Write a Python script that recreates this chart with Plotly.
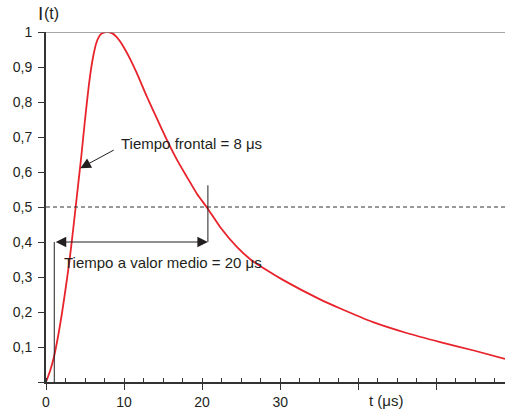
import plotly.graph_objects as go

# Curve I(t)
t_us = [0, 0.5, 1.0, 1.5, 2.0, 2.5, 3.0, 3.5, 4.0, 4.5, 5.0, 5.5, 6.0, 6.5, 7.0,
        7.5, 8.0, 8.5, 9.0, 9.5, 10.0, 10.8, 11.65, 12.93, 14.2, 15.5, 16.8, 18.05, 19.33, 20.7,
        22.3, 24.45, 26.2, 28.3, 30.4, 35.1, 37.7, 41.9, 46.2, 50.5, 54.8, 58.8]
i_t = [0, 0.03, 0.07, 0.125, 0.19, 0.265, 0.345, 0.44, 0.54, 0.64, 0.75, 0.85, 0.925,
       0.972, 0.993, 0.999, 1.0, 0.996, 0.987, 0.973, 0.955, 0.922, 0.882, 0.815, 0.753,
       0.691, 0.634, 0.586, 0.538, 0.496, 0.443, 0.386, 0.350, 0.319, 0.291, 0.236, 0.21,
       0.171, 0.140, 0.114, 0.090, 0.066]

x_tickvals = [0, 10, 20, 30, 40, 50]
x_ticktext = ["0", "10", "20", "30", "", ""]
y_tickvals = [0, 0.1, 0.2, 0.3, 0.4, 0.5, 0.6, 0.7, 0.8, 0.9, 1.0]
y_ticktext = ["", "0,1", "0,2", "0,3", "0,4", "0,5", "0,6", "0,7", "0,8", "0,9", "1"]

half_level = 0.5
t_start = 1.06
t_half = 20.74
arrow_level = 0.4
x_max = 58.8

FONT = "Liberation Sans, Arial, sans-serif"
TXT = "#231f20"

fig = go.Figure()
fig.add_trace(go.Scatter(x=t_us, y=i_t, mode="lines",
                         line=dict(color="#e8232b", width=1.8, shape="spline", smoothing=0.5),
                         hoverinfo="skip", showlegend=False))

# reference lines
fig.add_shape(type="line", x0=0, x1=x_max, y0=1, y1=1, line=dict(color="#8a8a8a", width=1.5))
fig.add_shape(type="line", x0=0, x1=x_max, y0=half_level, y1=half_level,
              line=dict(color="#333", width=1, dash="4px,3px"))
fig.add_shape(type="line", x0=t_start, x1=t_start, y0=0, y1=arrow_level,
              line=dict(color="#231f20", width=1))
fig.add_shape(type="line", x0=t_half, x1=t_half, y0=arrow_level, y1=0.562,
              line=dict(color="#231f20", width=1))

# double arrow
fig.add_annotation(x=t_half, y=arrow_level, ax=t_start, ay=arrow_level,
                   xref="x", yref="y", axref="x", ayref="y", text="",
                   showarrow=True, arrowhead=2, startarrowhead=2, arrowside="end+start",
                   arrowsize=2.1, startarrowsize=2.1, arrowwidth=1, arrowcolor="#231f20")
# front-time arrow
fig.add_annotation(x=4.4, y=0.611, ax=8.87, ay=0.665,
                   xref="x", yref="y", axref="x", ayref="y", text="",
                   showarrow=True, arrowhead=2, arrowsize=2.1, arrowwidth=1, arrowcolor="#231f20")

fig.add_annotation(x=9.4, y=0.682, xref="x", yref="y", text="Tiempo frontal = 8 μs",
                   showarrow=False, xanchor="left", yanchor="middle",
                   font=dict(family=FONT, size=15, color=TXT))
fig.add_annotation(x=2.0, y=0.342, xref="x", yref="y", text="Tiempo a valor medio = 20 μs",
                   showarrow=False, xanchor="left", yanchor="middle",
                   font=dict(family=FONT, size=15, color=TXT))

# axis title "I(t)"
fig.add_annotation(x=-0.0225, y=1.054, xref="paper", yref="paper", text="I",
                   showarrow=False, xanchor="left", yanchor="middle",
                   font=dict(family=FONT, size=19, color=TXT))
fig.add_annotation(x=-0.009, y=1.052, xref="paper", yref="paper", text="(t)",
                   showarrow=False, xanchor="left", yanchor="middle",
                   font=dict(family=FONT, size=16, color=TXT))
fig.add_annotation(x=43.5, y=-0.052, xref="x", yref="paper", text="t (μs)",
                   showarrow=False, xanchor="center", yanchor="middle",
                   font=dict(family=FONT, size=15, color=TXT))

fig.update_xaxes(range=[0, x_max], tickvals=x_tickvals, ticktext=x_ticktext,
                 ticks="outside", ticklen=6, tickwidth=1.2, tickcolor="#333",
                 minor=dict(ticks="inside", ticklen=4, dtick=2.5, tick0=0, tickcolor="#333", tickwidth=1),
                 showline=True, linecolor="#333", linewidth=1.8, showgrid=False, zeroline=False,
                 tickfont=dict(family=FONT, size=14, color=TXT), fixedrange=True)
fig.update_yaxes(range=[0, 1], tickvals=y_tickvals, ticktext=y_ticktext,
                 ticks="outside", ticklen=6, tickwidth=1.2, tickcolor="#333",
                 ticklabelstandoff=3,
                 showline=True, linecolor="#333", linewidth=1.8, showgrid=False, zeroline=False,
                 tickfont=dict(family=FONT, size=14, color=TXT), fixedrange=True)

fig.update_layout(width=505, height=410, margin=dict(l=46, r=0, t=32, b=28),
                  plot_bgcolor="white", paper_bgcolor="white", showlegend=False)

fig.write_html("out.html")
